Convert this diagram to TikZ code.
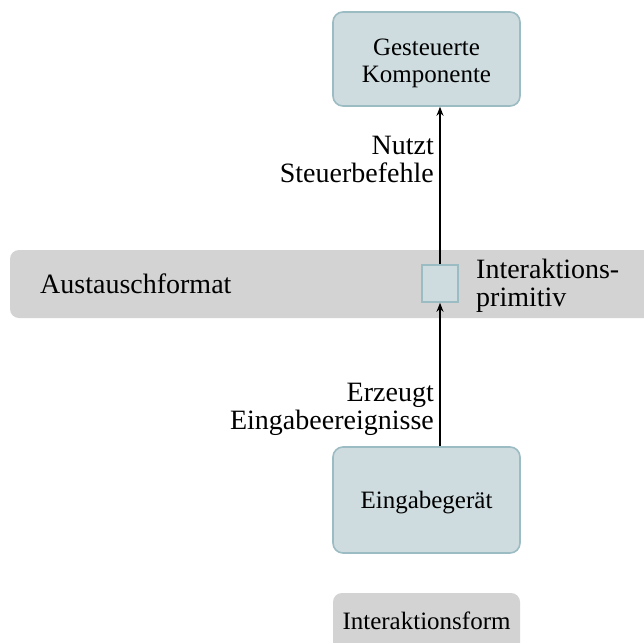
\documentclass[tikz,border=0pt]{standalone}
\usepackage{fontspec}
\setmainfont{Liberation Serif}
\usetikzlibrary{arrows.meta}
\definecolor{boxfill}{HTML}{CEDCE0}
\definecolor{boxline}{HTML}{9CBCC3}
\definecolor{bandgray}{HTML}{D3D3D3}
\tikzset{
  comp/.style={draw=boxline, fill=boxfill, line width=1.6pt, rounded corners=10pt,
    minimum width=187pt, minimum height=94pt, align=center, inner sep=0pt,
    font=\fontsize{25}{27}\selectfont},
  prim/.style={draw=boxline, fill=boxfill, line width=1.6pt,
    minimum width=36pt, minimum height=37pt, inner sep=0pt},
  band/.style={fill=bandgray, rounded corners=9pt, inner sep=0pt},
  lbl/.style={font=\fontsize{28}{28}\selectfont, inner sep=0pt},
  boxlbl/.style={font=\fontsize{25}{27}\selectfont, inner sep=0pt},
  flow/.style={line width=1.5pt, -{Stealth[length=9pt,width=7pt]}}
}
\begin{document}
\begin{tikzpicture}[x=1pt,y=-1pt]
\clip (0,0) rectangle (644,642);
\fill[white] (0,0) rectangle (644,642);

% exchange-format band
\node[band, minimum width=660pt, minimum height=68pt] (band) at (340,284) {};
\node[lbl, anchor=west] (fmt) at (40,284) {Austauschformat};

% components (struts keep the text optically centred)
\node[comp] (ctrl) at (426.5,59) {\rule{0pt}{25pt}Gesteuerte\\Komponente};
\node[comp, minimum height=106pt] (dev) at (426.5,500) {\rule{0pt}{23pt}Eingabegerät};

% interaction primitive
\node[prim] (prim) at (440,283.5) {};
\node[lbl, anchor=west, align=left] (primlbl) at (476,286) {Interaktions-\\primitiv};

% interaction form
\node[band, minimum width=187pt, minimum height=80pt] (form) at (426.5,633) {};
\node[boxlbl] (formlbl) at (426.5,621) {Interaktionsform};

% flows
\draw[flow] (prim.north) -- (prim.north |- ctrl.south);
\draw[flow] (prim.south |- dev.north) -- (prim.south);

% flow labels
\node[lbl, anchor=east, align=right] (uses) at (434,159) {Nutzt\\Steuerbefehle};
\node[lbl, anchor=east, align=right] (gen) at (434,409) {Erzeugt\\Eingabeereignisse};
\end{tikzpicture}
\end{document}
